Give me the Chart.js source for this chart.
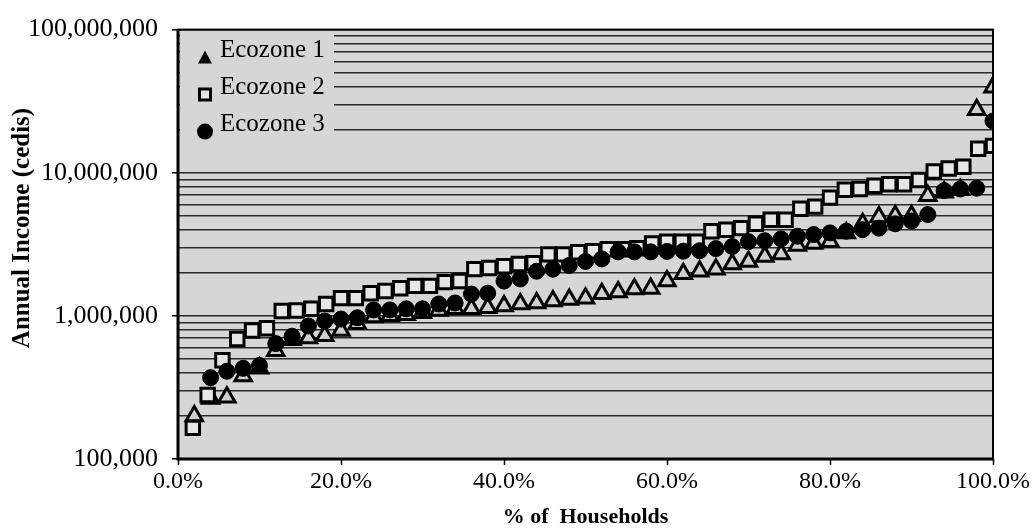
<!DOCTYPE html>
<html>
<head>
<meta charset="utf-8">
<script src="https://cdn.jsdelivr.net/npm/chart.js"></script>
<style>
  body { margin: 0; background: #fff; }
  canvas { display: block; }
</style>
</head>
<body>
<canvas id="chart" width="1036" height="530"></canvas>
<script>
// percent of households (x) for each series
const pctEvery2 = [2, 4, 6, 8, 10, 12, 14, 16, 18, 20, 22, 24, 26, 28, 30, 32, 34, 36, 38, 40,
  42, 44, 46, 48, 50, 52, 54, 56, 58, 60, 62, 64, 66, 68, 70, 72, 74, 76, 78, 80,
  82, 84, 86, 88, 90, 92, 94, 96, 98, 100];
const pctEcozone2 = [1.82, 3.64, 5.45, 7.27, 9.09, 10.91, 12.73, 14.55, 16.36, 18.18, 20.00,
  21.82, 23.64, 25.45, 27.27, 29.09, 30.91, 32.73, 34.55, 36.36, 38.18, 40.00, 41.82, 43.64,
  45.45, 47.27, 49.09, 50.91, 52.73, 54.55, 56.36, 58.18, 60.00, 61.82, 63.64, 65.45, 67.27,
  69.09, 70.91, 72.73, 74.55, 76.36, 78.18, 80.00, 81.82, 83.64, 85.45, 87.27, 89.09, 90.91,
  92.73, 94.55, 96.36, 98.18, 100];

// annual income (cedis)
const ecozone1 = [200000, 265000, 270000, 380000, 430000, 570000, 680000, 700000, 725000, 790000,
  880000, 980000, 1000000, 1020000, 1050000, 1090000, 1120000, 1120000, 1140000, 1170000,
  1210000, 1230000, 1270000, 1300000, 1330000, 1430000, 1470000, 1540000, 1550000, 1750000,
  1970000, 2050000, 2120000, 2300000, 2400000, 2600000, 2700000, 3100000, 3200000, 3300000,
  3800000, 4400000, 4900000, 5000000, 5000000, 6900000, 7300000, 7600000, 27500000, 39500000];
const ecozone2 = [165000, 280000, 490000, 690000, 790000, 820000, 1080000, 1090000, 1120000, 1210000,
  1330000, 1330000, 1440000, 1490000, 1560000, 1620000, 1620000, 1720000, 1750000, 2120000,
  2160000, 2220000, 2300000, 2330000, 2690000, 2690000, 2780000, 2830000, 2920000, 2920000,
  2970000, 3200000, 3300000, 3300000, 3300000, 3900000, 4000000, 4100000, 4400000, 4700000,
  4700000, 5600000, 5800000, 6700000, 7600000, 7700000, 8100000, 8300000, 8300000, 8900000,
  10200000, 10700000, 11000000, 14700000, 15400000];
const ecozone3 = [null, 370000, 410000, 430000, 450000, 640000, 720000, 850000, 920000, 950000,
  970000, 1100000, 1100000, 1120000, 1120000, 1210000, 1230000, 1420000, 1440000, 1750000,
  1810000, 2050000, 2120000, 2250000, 2400000, 2500000, 2800000, 2800000, 2800000, 2820000,
  2830000, 2850000, 2950000, 3050000, 3300000, 3350000, 3450000, 3600000, 3700000, 3800000,
  3900000, 4000000, 4100000, 4400000, 4600000, 5100000, 7500000, 7700000, 7800000, 23000000];

const seriesNames = ['Ecozone 1', 'Ecozone 2', 'Ecozone 3'];
const xTicks = [0, 20, 40, 60, 80, 100];
const yMajorTicks = [100000, 1000000, 10000000, 100000000];

const plotBg = '#d6d6d6';
const serif = "'Liberation Serif', 'Times New Roman', serif";

// horizontal grid lines at 1..9 x each decade
const gridValues = [];
yMajorTicks.slice(0, -1).forEach(m => {
  for (let k = 1; k < 10; k++) gridValues.push(m * k);
});
gridValues.push(yMajorTicks[yMajorTicks.length - 1]);

function toPoints(xs, ys) {
  return xs.map((x, i) => ({ x: x, y: ys[i] }));
}

function marker(ctx, style, x, y) {
  ctx.save();
  ctx.strokeStyle = '#000';
  ctx.fillStyle = '#000';
  ctx.beginPath();
  if (style === 'triangle') {
    ctx.lineWidth = 3;
    ctx.moveTo(x, y - 7);
    ctx.lineTo(x + 7, y + 6);
    ctx.lineTo(x - 7, y + 6);
    ctx.closePath();
    ctx.fill();
  } else if (style === 'rect') {
    ctx.lineWidth = 3;
    ctx.fillStyle = '#e6e6e6';
    ctx.rect(x - 5.5, y - 5.5, 11, 11);
    ctx.fill();
    ctx.stroke();
  } else {
    ctx.arc(x, y, 8, 0, Math.PI * 2);
    ctx.fill();
  }
  ctx.restore();
}

const chrome = {
  id: 'chrome',
  beforeDraw(chart) {
    const a = chart.chartArea, ctx = chart.ctx;
    ctx.save();
    ctx.fillStyle = plotBg;
    ctx.fillRect(a.left, a.top, a.right - a.left, a.bottom - a.top);
    ctx.restore();
  },
  afterDraw(chart) {
    const a = chart.chartArea, ctx = chart.ctx;
    ctx.save();
    // legend box (hides grid lines)
    ctx.fillStyle = plotBg;
    ctx.fillRect(a.left + 2, a.top + 2, 154, 132);
    const styles = ['triangle', 'rect', 'circle'];
    const rows = [21, 58, 95];
    ctx.font = '25px ' + serif;
    ctx.fillStyle = '#000';
    ctx.textBaseline = 'middle';
    ctx.textAlign = 'left';
    seriesNames.forEach((name, i) => {
      marker(ctx, styles[i], a.left + 27, a.top + rows[i] + 7);
      ctx.fillStyle = '#000';
      ctx.fillText(name, a.left + 42, a.top + rows[i]);
    });
    // plot frame
    ctx.strokeStyle = '#000';
    ctx.lineWidth = 2;
    ctx.strokeRect(a.left, a.top, a.right - a.left, a.bottom - a.top);
    ctx.lineWidth = 3;
    ctx.beginPath();
    ctx.moveTo(a.left, a.top);
    ctx.lineTo(a.left, a.bottom);
    ctx.lineTo(a.right, a.bottom);
    ctx.stroke();
    // axis titles
    ctx.font = 'bold 25px ' + serif;
    ctx.textAlign = 'center';
    ctx.save();
    ctx.translate(23, 228);
    ctx.rotate(-Math.PI / 2);
    ctx.fillText('Annual Income (cedis)', 0, 0);
    ctx.restore();
    ctx.font = 'bold 22px ' + serif;
    ctx.fillText('% of  Households', (a.left + a.right) / 2, 517);
    ctx.restore();
  }
};

new Chart(document.getElementById('chart'), {
  type: 'scatter',
  data: {
    datasets: [
      {
        label: seriesNames[0],
        data: toPoints(pctEvery2, ecozone1),
        pointStyle: 'triangle',
        pointRadius: 9.5,
        pointBorderWidth: 3,
        borderColor: '#000',
        backgroundColor: '#cfcfcf',
        order: 3
      },
      {
        label: seriesNames[1],
        data: toPoints(pctEcozone2, ecozone2),
        pointStyle: 'rect',
        pointRadius: 9.5,
        pointBorderWidth: 3,
        borderColor: '#000',
        backgroundColor: '#e6e6e6',
        order: 2
      },
      {
        label: seriesNames[2],
        data: toPoints(pctEvery2, ecozone3),
        pointStyle: 'circle',
        pointRadius: 8,
        pointBorderWidth: 1,
        borderColor: '#000',
        backgroundColor: '#000',
        order: 1
      }
    ]
  },
  options: {
    responsive: false,
    animation: false,
    devicePixelRatio: 1,
    layout: { padding: { left: 0, right: 43, top: 27, bottom: 0 } },
    plugins: {
      legend: { display: false },
      tooltip: { enabled: false }
    },
    scales: {
      x: {
        type: 'linear',
        min: 0,
        max: 100,
        afterBuildTicks: s => { s.ticks = xTicks.map(v => ({ value: v })); },
        afterFit: s => { s.height = 71; },
        ticks: {
          callback: v => v.toFixed(1) + '%',
          font: { family: serif, size: 24 },
          color: '#000',
          padding: 2,
          maxRotation: 0,
          autoSkip: false
        },
        grid: { drawOnChartArea: false, tickLength: 6, tickColor: '#000', tickWidth: 1.5 },
        border: { display: false }
      },
      y: {
        type: 'logarithmic',
        min: 100000,
        max: 100000000,
        afterBuildTicks: s => {
          s.ticks = gridValues.map(v => ({ value: v, major: yMajorTicks.includes(v) }));
        },
        afterFit: s => { s.width = 178; },
        ticks: {
          callback: v => yMajorTicks.includes(v) ? v.toLocaleString('en-US') : '',
          font: { family: serif, size: 26 },
          color: '#000',
          padding: 14,
          autoSkip: false
        },
        grid: {
          color: '#2a2a2a',
          lineWidth: 1.5,
          tickLength: 6,
          tickWidth: 1.5,
          tickColor: c => (c.tick && yMajorTicks.includes(c.tick.value)) ? '#000' : 'rgba(0,0,0,0)'
        },
        border: { display: false }
      }
    }
  },
  plugins: [chrome]
});
</script>
</body>
</html>
